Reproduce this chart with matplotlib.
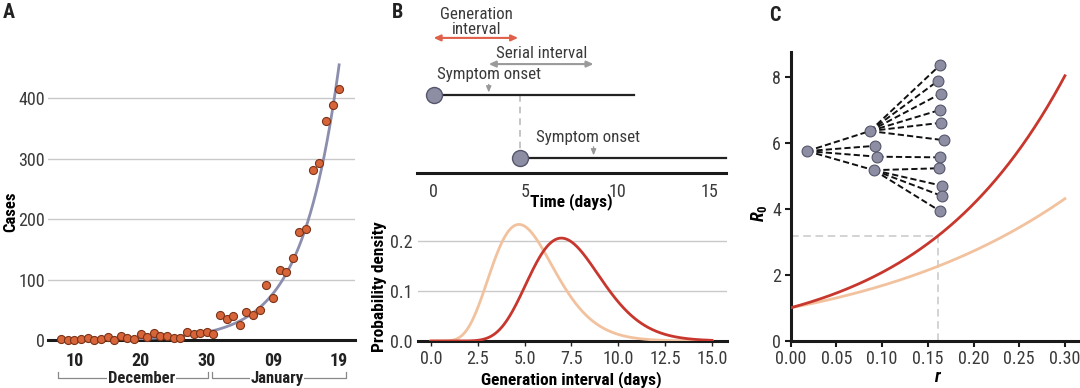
import numpy as np
import matplotlib
matplotlib.use('Agg')
import matplotlib.pyplot as plt
from matplotlib import font_manager as fm
from matplotlib.transforms import blended_transform_factory
from math import lgamma

_available = {f.name for f in fm.fontManager.ttflist}
_candidates = ['Roboto Condensed', 'Fira Sans Condensed', 'IBM Plex Sans Condensed',
               'Archivo Narrow', 'PT Sans Narrow', 'Liberation Sans Narrow', 'Roboto']
FONT = next((c for c in _candidates if c in _available), 'DejaVu Sans')
plt.rcParams['font.family'] = [FONT, 'DejaVu Sans']
plt.rcParams['mathtext.fontset'] = 'custom'
plt.rcParams['mathtext.it'] = f'{FONT}:italic:bold'
plt.rcParams['mathtext.rm'] = f'{FONT}:bold'
plt.rcParams['mathtext.bf'] = f'{FONT}:bold'

# ---------------- data ----------------
# Panel A: daily cases (December 8 .. January 19)
dec_days = list(range(8, 32))
dec_cases = [1, 0, 0, 2, 4, 0, 1, 5, 0, 6, 4, 2, 10, 5, 11, 6, 6, 4, 4, 13, 10, 12, 13, 10]
jan_days = list(range(1, 20))
jan_cases = [41, 34, 40, 24, 47, 41, 49, 91, 70, 116, 113, 135, 178, 184, 281, 293, 362, 388, 415]
fit_growth_rate = 0.178        # per day, exponential fit
fit_final_cases = 455          # fitted value on Jan 19
a_tick_days = [10, 20, 30, 40, 50]
a_tick_labels = ['10', '20', '30', '09', '19']
a_yticks = [0, 100, 200, 300, 400]
month_names = ['December', 'January']
month_spans = [(7.55, 30.2), (30.8, 51.0)]
month_label_days = [20.2, 40.6]

# Panel B: generation-interval distributions (gamma shape, scale)
gi_red_shape, gi_red_scale = 14.06, 0.533
gi_tan_shape, gi_tan_scale = 8.7, 0.61
b_xticks = [0.0, 2.5, 5.0, 7.5, 10.0, 12.5, 15.0]
b_yticks = [0.0, 0.1, 0.2]
time_ticks = [0, 5, 10, 15]
infector_start, infector_end, infector_onset = 0.0, 10.9, 3.0
infectee_start, infectee_end, infectee_onset = 4.7, 15.9, 8.7

# Panel C: R0 vs growth rate r
r_max = 0.30
r_marker = 0.161
c_xticks = [0.00, 0.05, 0.10, 0.15, 0.20, 0.25, 0.30]
c_yticks = [0, 2, 4, 6, 8]
tree_root = (0.018, 5.76)
tree_mid = [(0.0867, 6.37), (0.0922, 5.92), (0.0947, 5.59), (0.0911, 5.18)]
tree_leaves = [
    [(0.1633, 8.37), (0.1614, 7.90), (0.1644, 7.51), (0.1633, 7.01), (0.1644, 6.62), (0.1680, 6.09)],
    [],
    [(0.1633, 5.57)],
    [(0.1625, 5.24), (0.1651, 4.71), (0.1651, 4.40), (0.1633, 3.94)],
]

# ---------------- styles ----------------
RED = '#c8372d'
TAN = '#f2c29e'
NODE = '#8d8ea3'
NODE_EDGE = '#55566a'
TICKC = '#3a3a3a'
GRID = '#c9c9c9'
FS = 13
FSA = 12.2

W, H = 1080, 388
fig = plt.figure(figsize=(W / 100, H / 100), dpi=100)


def ax_px(l, t, r, b):
    return fig.add_axes([l / W, 1 - b / H, (r - l) / W, (b - t) / H])


def center_labels(ax):
    ax.xaxis.label.set_va('center')
    ax.yaxis.label.set_va('center')
    ax.yaxis.label.set_ha('center')


def gamma_pdf(x, k, th):
    x = np.asarray(x, dtype=float)
    out = np.zeros_like(x)
    m = x > 0
    out[m] = np.exp((k - 1) * np.log(x[m]) - x[m] / th - lgamma(k) - k * np.log(th))
    return out

# ================= Panel A =================
axA = ax_px(48, 60, 355, 340)
days = np.array(dec_days + [31 + d for d in jan_days])
cases = np.array(dec_cases + jan_cases)
tfit = np.linspace(days[0], days[-1], 300)
yfit = fit_final_cases * np.exp(fit_growth_rate * (tfit - days[-1]))
axA.plot(tfit, yfit, color='#8c8eae', lw=2, zorder=3)
axA.plot(days, cases, 'o', ms=5.8, mfc='#d8643a', mec='#7a3418', mew=0.8, zorder=4, clip_on=False)
axA.set_xlim(6.0, 52.4)
axA.set_ylim(0, 463)
axA.set_yticks(a_yticks)
axA.grid(axis='y', color=GRID, lw=1)
axA.set_axisbelow(True)
for s in ['left', 'right', 'top']:
    axA.spines[s].set_visible(False)
axA.spines['bottom'].set_linewidth(2.2)
axA.spines['bottom'].set_color('#1a1a1a')
axA.set_xticks(a_tick_days)
axA.set_xticklabels(a_tick_labels, fontweight='bold')
axA.tick_params(axis='x', length=0, pad=9, labelsize=FS, labelcolor='#222')
axA.tick_params(axis='y', length=0, pad=2, labelsize=FS, labelcolor=TICKC)
axA.set_ylabel('Cases', fontweight='bold', fontsize=12)
center_labels(axA)
axA.yaxis.set_label_coords(-0.122, 0.457)
trA = blended_transform_factory(axA.transData, axA.transAxes)
for name, (x0, x1), xl in zip(month_names, month_spans, month_label_days):
    yb, ye = -0.137, -0.116
    axA.plot([x0, x0, x1, x1], [ye, yb, yb, ye], color='#888', lw=0.9,
             transform=trA, clip_on=False)
    axA.text(xl, yb, name, transform=trA, ha='center', va='center',
             fontsize=12, fontweight='bold', color='#222',
             bbox=dict(facecolor='white', edgecolor='none', pad=0.6))

# ================= Panel B (top timeline) =================
axT = ax_px(417, 2, 726, 173)
axT.set_xlim(-0.9, 15.9)
axT.set_ylim(0, 10)
for s in ['left', 'right', 'top']:
    axT.spines[s].set_visible(False)
axT.spines['bottom'].set_linewidth(2.2)
axT.spines['bottom'].set_color('#1a1a1a')
axT.set_yticks([])
axT.set_xticks(time_ticks)
axT.tick_params(axis='x', length=0, pad=7, labelsize=FS, labelcolor=TICKC)
axT.set_xlabel('Time (days)', fontweight='bold', fontsize=12.5)
center_labels(axT)
axT.xaxis.set_label_coords(0.498, -0.166)
y_top, y_bot = 4.56, 0.88
axT.plot([infector_start, infector_end], [y_top, y_top], color='#222', lw=1.6, zorder=2)
axT.plot([infectee_start, infectee_end], [y_bot, y_bot], color='#222', lw=1.6, zorder=2, clip_on=False)
axT.plot([infectee_start, infectee_start], [y_top, y_bot + 0.4], color='#bbbbbb', lw=1.2,
         ls=(0, (4, 3)), zorder=1)
axT.plot([infector_start], [y_top], 'o', ms=11.5, mfc=NODE, mec=NODE_EDGE, mew=1, zorder=3)
axT.plot([infectee_start], [y_bot], 'o', ms=11.5, mfc=NODE, mec=NODE_EDGE, mew=1, zorder=3)
axT.annotate('', xy=(infector_onset, y_top + 0.15), xytext=(infector_onset, y_top + 0.62),
             arrowprops=dict(arrowstyle='-|>,head_length=0.35,head_width=0.15', color='#999', lw=1,
                             shrinkA=0, shrinkB=0))
axT.annotate('', xy=(infectee_onset, y_bot + 0.15), xytext=(infectee_onset, y_bot + 0.65),
             arrowprops=dict(arrowstyle='-|>,head_length=0.35,head_width=0.15', color='#999', lw=1,
                             shrinkA=0, shrinkB=0))
axT.text(infector_onset, 5.78, 'Symptom onset', ha='center', va='center', fontsize=FSA, color=TICKC)
axT.text(infectee_onset - 0.3, 2.05, 'Symptom onset', ha='center', va='center', fontsize=FSA, color=TICKC)
axT.annotate('', xy=(infector_start, 7.9), xytext=(infectee_start - 0.1, 7.9),
             arrowprops=dict(arrowstyle='<|-|>,head_length=0.4,head_width=0.18', color='#e0604a', lw=1.5,
                             shrinkA=0, shrinkB=0))
axT.text(2.35, 8.83, 'Generation\ninterval', ha='center', va='center', fontsize=FSA,
         color=TICKC, linespacing=0.95)
axT.annotate('', xy=(infector_onset, 6.37), xytext=(infectee_onset, 6.37),
             arrowprops=dict(arrowstyle='<|-|>,head_length=0.4,head_width=0.18', color='#9a9a9a', lw=1.5,
                             shrinkA=0, shrinkB=0))
axT.text(5.85, 7.0, 'Serial interval', ha='center', va='center', fontsize=FSA, color=TICKC)

# ================= Panel B (bottom densities) =================
axB = ax_px(418, 220, 727, 341)
xg = np.linspace(0, 15, 400)
axB.plot(xg, gamma_pdf(xg, gi_tan_shape, gi_tan_scale), color=TAN, lw=2, zorder=3)
axB.plot(xg, gamma_pdf(xg, gi_red_shape, gi_red_scale), color=RED, lw=2, zorder=4)
axB.set_xlim(-0.69, 15.8)
axB.set_ylim(0, 0.242)
axB.set_xticks(b_xticks)
axB.set_xticklabels([f'{v:.1f}' for v in b_xticks])
axB.set_yticks(b_yticks)
axB.set_yticklabels([f'{v:.1f}' for v in b_yticks])
axB.grid(axis='y', color=GRID, lw=1)
axB.set_axisbelow(True)
for s in ['left', 'right', 'top']:
    axB.spines[s].set_visible(False)
axB.spines['bottom'].set_linewidth(2.2)
axB.spines['bottom'].set_color('#1a1a1a')
axB.tick_params(axis='x', length=3.5, width=1, color='#222', pad=3, labelsize=FS, labelcolor=TICKC)
axB.tick_params(axis='y', length=0, pad=4, labelsize=FS, labelcolor=TICKC)
axB.set_xlabel('Generation interval (days)', fontweight='bold', fontsize=12.5)
axB.set_ylabel('Probability density', fontweight='bold', fontsize=12.5)
center_labels(axB)
axB.xaxis.set_label_coords(0.495, -0.322)
axB.yaxis.set_label_coords(-0.125, 0.446)

# ================= Panel C =================
axC = ax_px(790.7, 51.7, 1080, 340.7)
rg = np.linspace(0, r_max, 300)
R_red = (1 + rg * gi_red_scale) ** gi_red_shape
R_tan = (1 + rg * gi_tan_scale) ** gi_tan_shape
axC.plot(rg, R_tan, color=TAN, lw=2, zorder=2)
axC.plot(rg, R_red, color=RED, lw=2, zorder=3)
R_mark = (1 + r_marker * gi_red_scale) ** gi_red_shape
axC.plot([0, r_marker], [R_mark, R_mark], color='#c8c8c8', lw=1.1, ls=(0, (5, 3)), zorder=1)
axC.plot([r_marker, r_marker], [0, R_mark], color='#c8c8c8', lw=1.1, ls=(0, (5, 3)), zorder=1)
# tree diagram
dash = (0, (3.2, 1.6))
for (mx, my), leaves in zip(tree_mid, tree_leaves):
    axC.plot([tree_root[0], mx], [tree_root[1], my], color='#111', lw=1.4, ls=dash, zorder=4)
    for lx, ly in leaves:
        axC.plot([mx, lx], [my, ly], color='#111', lw=1.4, ls=dash, zorder=4)
all_nodes = [tree_root] + tree_mid + [p for lv in tree_leaves for p in lv]
axC.plot([p[0] for p in all_nodes], [p[1] for p in all_nodes], 'o', ms=7.8,
         mfc=NODE, mec=NODE_EDGE, mew=0.8, zorder=5)
axC.set_xlim(0, 0.3165)
axC.set_ylim(0, 8.78)
axC.set_xticks(c_xticks)
axC.set_xticklabels([f'{v:.2f}' for v in c_xticks])
axC.set_yticks(c_yticks)
for s in ['right', 'top']:
    axC.spines[s].set_visible(False)
for s in ['left', 'bottom']:
    axC.spines[s].set_linewidth(2.2)
    axC.spines[s].set_color('#1a1a1a')
axC.tick_params(axis='both', length=4, width=1.5, color='#1a1a1a', pad=3,
                labelsize=FS, labelcolor=TICKC)
axC.set_xlabel(r'$r$', fontsize=13)
axC.set_ylabel(r'$R_0$', fontsize=13)
center_labels(axC)
axC.xaxis.set_label_coords(0.509, -0.126)
axC.yaxis.set_label_coords(-0.11, 0.44)

# panel letters
fig.text(3 / W, 1 - 3 / H, 'A', fontsize=14.5, fontweight='bold', va='top', ha='left', color='#222')
fig.text(392 / W, 1 - 3 / H, 'B', fontsize=14.5, fontweight='bold', va='top', ha='left', color='#222')
fig.text(769 / W, 1 - 6 / H, 'C', fontsize=14.5, fontweight='bold', va='top', ha='left', color='#222')

fig.savefig('out.png', dpi=100)
